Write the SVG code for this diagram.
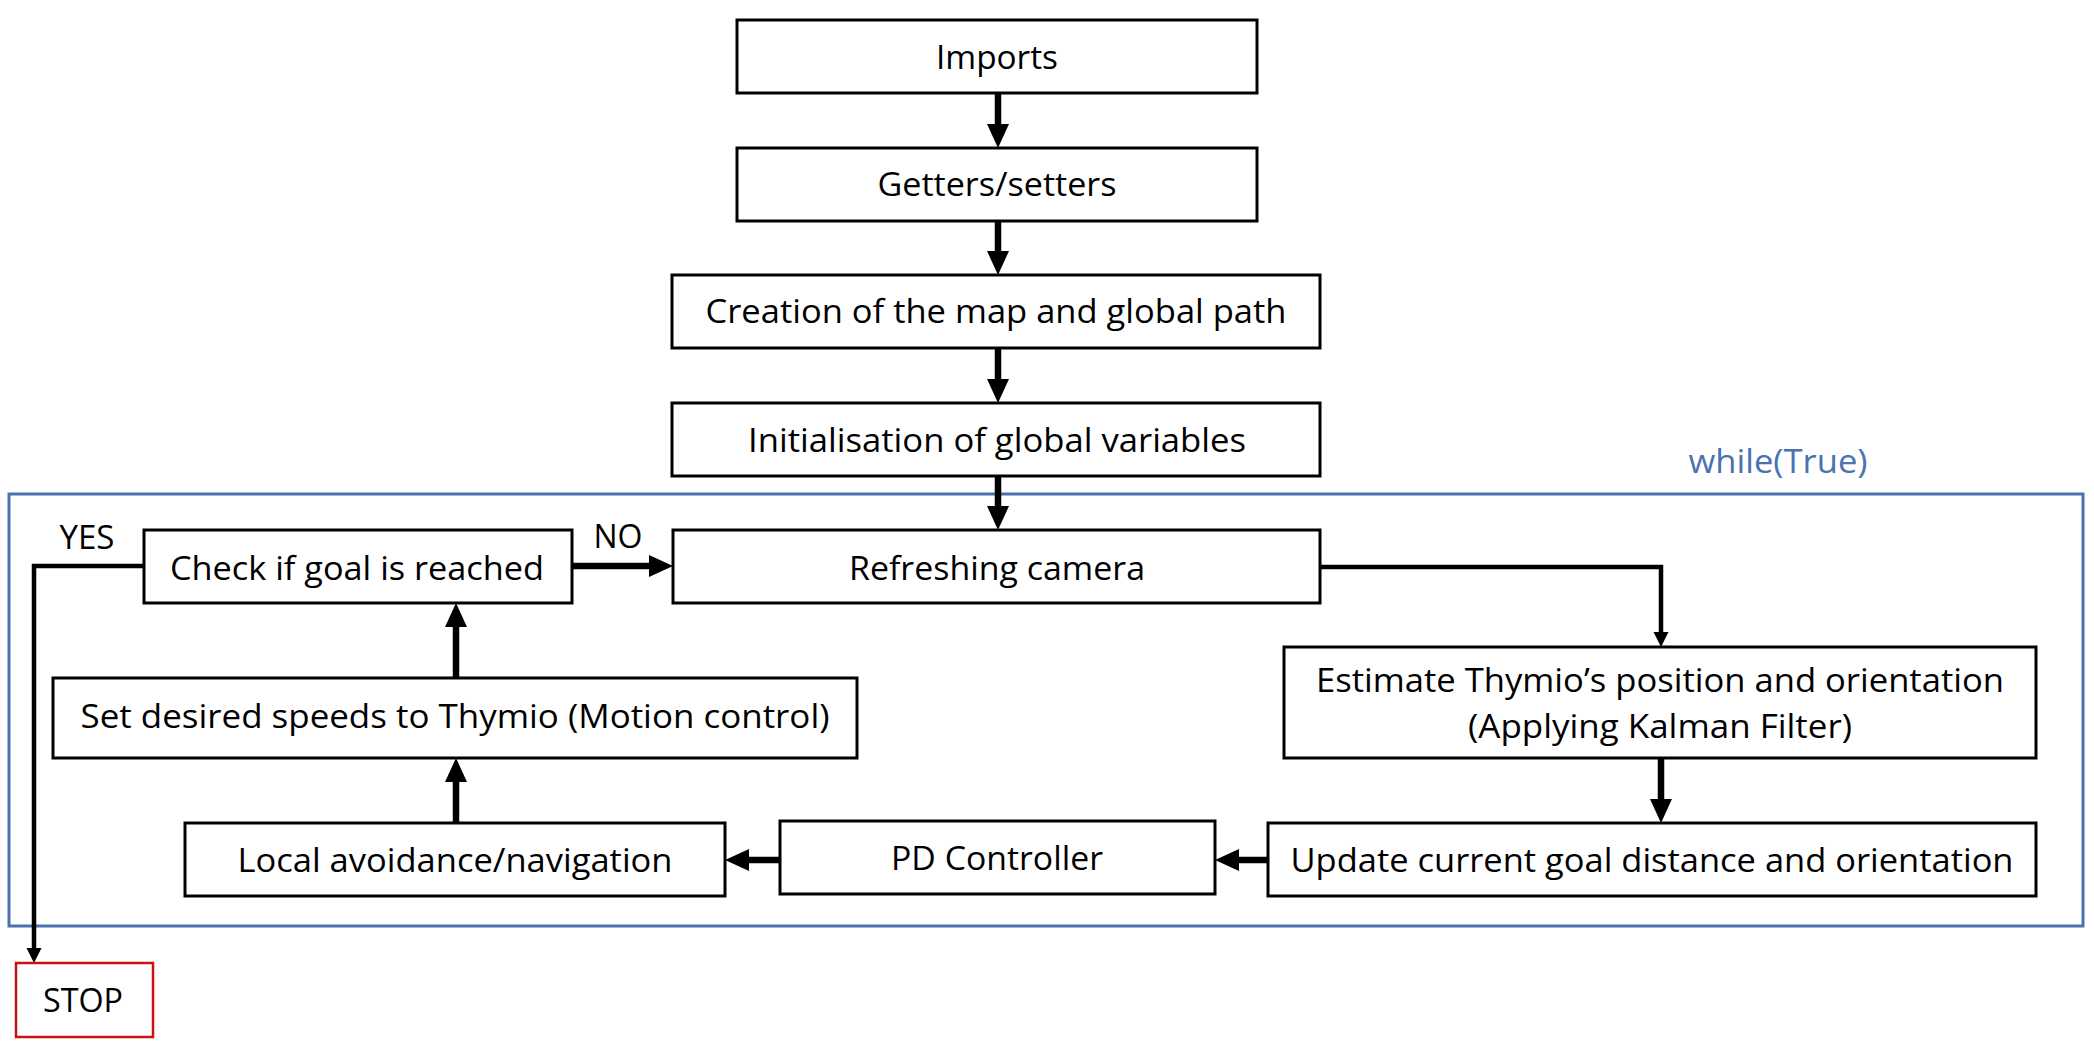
<svg xmlns="http://www.w3.org/2000/svg" width="2094" height="1042" viewBox="0 0 2094 1042">
<style>
.box{fill:#fff;stroke:#000;stroke-width:3}
.t{font-family:"Open Sans","Liberation Sans",sans-serif;font-size:32px;fill:#000;text-anchor:middle}
.thick{fill:none;stroke:#000;stroke-width:6.5}
.thin{fill:none;stroke:#000;stroke-width:4.5}
</style>
<defs>
<marker id="hb" markerUnits="userSpaceOnUse" markerWidth="24" markerHeight="22" refX="1" refY="11" orient="auto" overflow="visible">
<path d="M0,0 L24,11 L0,22 z" fill="#000"/>
</marker>
<marker id="hs" markerUnits="userSpaceOnUse" markerWidth="15" markerHeight="15" refX="1" refY="7.5" orient="auto" overflow="visible">
<path d="M0,0 L15,7.5 L0,15 z" fill="#000"/>
</marker>
</defs>
<rect width="2094" height="1042" fill="#fff"/>
<g id="loop">
<rect x="9" y="494" width="2074" height="432" fill="none" stroke="#4A72B0" stroke-width="3"/>
<text x="1778" y="473" class="t" style="fill:#4A72B0" textLength="179" lengthAdjust="spacingAndGlyphs">while(True)</text>
</g>
<g id="connectors">
<line x1="998" y1="93" x2="998" y2="125" class="thick" marker-end="url(#hb)"/>
<line x1="998" y1="221" x2="998" y2="252" class="thick" marker-end="url(#hb)"/>
<line x1="998" y1="348" x2="998" y2="380" class="thick" marker-end="url(#hb)"/>
<line x1="998" y1="476" x2="998" y2="507" class="thick" marker-end="url(#hb)"/>
<line x1="572" y1="566" x2="650" y2="566" class="thick" marker-end="url(#hb)"/>
<line x1="456" y1="678" x2="456" y2="626" class="thick" marker-end="url(#hb)"/>
<line x1="456" y1="823" x2="456" y2="781" class="thick" marker-end="url(#hb)"/>
<line x1="779" y1="860" x2="748" y2="860" class="thick" marker-end="url(#hb)"/>
<line x1="1268" y1="860" x2="1238" y2="860" class="thick" marker-end="url(#hb)"/>
<line x1="1661" y1="758" x2="1661" y2="800" class="thick" marker-end="url(#hb)"/>
<path d="M1320,567 H1661 V633" class="thin" marker-end="url(#hs)"/>
<path d="M144,566 H34 V949" class="thin" marker-end="url(#hs)"/>
<text x="87" y="549" class="t" textLength="55" lengthAdjust="spacingAndGlyphs">YES</text>
<text x="618" y="548" class="t" textLength="49" lengthAdjust="spacingAndGlyphs">NO</text>
</g>
<g id="imports">
<rect x="737" y="20" width="520" height="73" class="box"/>
<text x="997" y="69" class="t" textLength="122" lengthAdjust="spacingAndGlyphs">Imports</text>
</g>
<g id="getters">
<rect x="737" y="148" width="520" height="73" class="box"/>
<text x="997" y="196" class="t" textLength="239" lengthAdjust="spacingAndGlyphs">Getters/setters</text>
</g>
<g id="creation">
<rect x="672" y="275" width="648" height="73" class="box"/>
<text x="996" y="323" class="t" textLength="581" lengthAdjust="spacingAndGlyphs">Creation of the map and global path</text>
</g>
<g id="init">
<rect x="672" y="403" width="648" height="73" class="box"/>
<text x="997" y="452" class="t" textLength="498" lengthAdjust="spacingAndGlyphs">Initialisation of global variables</text>
</g>
<g id="check">
<rect x="144" y="530" width="428" height="73" class="box"/>
<text x="357" y="580" class="t" textLength="374" lengthAdjust="spacingAndGlyphs">Check if goal is reached</text>
</g>
<g id="refresh">
<rect x="673" y="530" width="647" height="73" class="box"/>
<text x="997" y="580" class="t" textLength="296" lengthAdjust="spacingAndGlyphs">Refreshing camera</text>
</g>
<g id="estimate">
<rect x="1284" y="647" width="752" height="111" class="box"/>
<text x="1660" y="692" class="t" textLength="688" lengthAdjust="spacingAndGlyphs">Estimate Thymio’s position and orientation</text>
<text x="1660" y="738" class="t" textLength="384" lengthAdjust="spacingAndGlyphs">(Applying Kalman Filter)</text>
</g>
<g id="setspeeds">
<rect x="53" y="678" width="804" height="80" class="box"/>
<text x="455" y="728" class="t" textLength="749" lengthAdjust="spacingAndGlyphs">Set desired speeds to Thymio (Motion control)</text>
</g>
<g id="local">
<rect x="185" y="823" width="540" height="73" class="box"/>
<text x="455" y="872" class="t" textLength="435" lengthAdjust="spacingAndGlyphs">Local avoidance/navigation</text>
</g>
<g id="pd">
<rect x="780" y="821" width="435" height="73" class="box"/>
<text x="997" y="870" class="t" textLength="212" lengthAdjust="spacingAndGlyphs">PD Controller</text>
</g>
<g id="update">
<rect x="1268" y="823" width="768" height="73" class="box"/>
<text x="1652" y="872" class="t" textLength="723" lengthAdjust="spacingAndGlyphs">Update current goal distance and orientation</text>
</g>
<g id="stop">
<rect x="16" y="963" width="137" height="74" fill="#fff" stroke="#CC1111" stroke-width="2.5"/>
<text x="83" y="1012" class="t" textLength="80" lengthAdjust="spacingAndGlyphs">STOP</text>
</g>
</svg>
